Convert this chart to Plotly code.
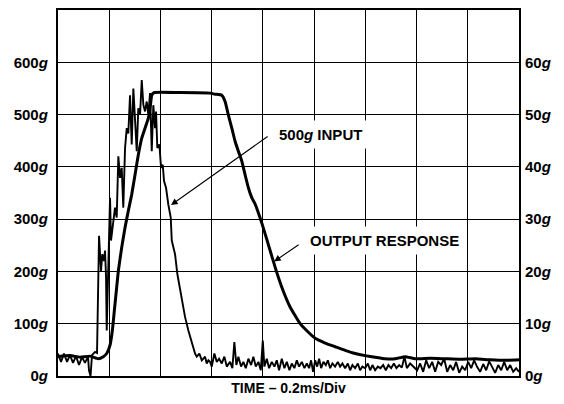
import plotly.graph_objects as go

# time in divisions (0.2 ms/div), acceleration in g
input_t = [0.000, 0.059, 0.117, 0.176, 0.234, 0.293, 0.352, 0.410, 0.469, 0.527, 0.586, 0.605, 0.635,
           0.664, 0.723, 0.762, 0.801, 0.840, 0.865, 0.898, 0.918, 0.938, 0.951, 0.982, 1.016, 1.035,
           1.080, 1.113, 1.146, 1.178, 1.211, 1.244, 1.275, 1.309, 1.342, 1.373, 1.406, 1.439, 1.471,
           1.504, 1.537, 1.568, 1.602, 1.635, 1.666, 1.699, 1.732, 1.764, 1.797, 1.830, 1.861, 1.895,
           1.914, 1.939, 1.979, 2.012, 2.045, 2.070, 2.109, 2.154, 2.201, 2.221, 2.285, 2.330, 2.383,
           2.436, 2.480, 2.545, 2.611, 2.676, 2.709, 2.760, 2.807, 2.838, 2.871, 2.904, 2.936, 2.969,
           3.002, 3.053, 3.100, 3.145, 3.197, 3.248, 3.295, 3.359, 3.404, 3.443, 3.482, 3.521, 3.574,
           3.619, 3.666, 3.717, 3.770, 3.814, 3.861, 3.912, 3.959, 3.998, 4.029, 4.076, 4.121, 4.174,
           4.225, 4.271, 4.316, 4.369, 4.420, 4.467, 4.518, 4.564, 4.615, 4.662, 4.707, 4.760, 4.811,
           4.857, 4.902, 4.941, 4.980, 5.020, 5.059, 5.098, 5.137, 5.182, 5.229, 5.268, 5.313, 5.357,
           5.410, 5.463, 5.508, 5.553, 5.605, 5.658, 5.703, 5.748, 5.801, 5.854, 5.898, 5.943, 5.996,
           6.049, 6.094, 6.139, 6.191, 6.244, 6.295, 6.348, 6.400, 6.451, 6.504, 6.557, 6.607, 6.660,
           6.713, 6.764, 6.811, 6.875, 6.939, 7.012, 7.070, 7.129, 7.188, 7.246, 7.305, 7.363, 7.422,
           7.480, 7.539, 7.598, 7.656, 7.715, 7.773, 7.832, 7.891, 7.949, 8.008, 8.066, 8.125, 8.184,
           8.242, 8.301, 8.359, 8.418, 8.477, 8.535, 8.594, 8.652, 8.711, 8.770, 8.828, 8.887, 8.945,
           9.000]
input_g = [43, 27, 43, 27, 40, 25, 38, 21, 36, 25, 37, 11, 0,
           40, 46, 44, 268, 201, 233, 220, 240, 189, 87, 220, 341, 259,
           297, 322, 303, 420, 379, 398, 322, 436, 474, 464, 537, 443, 550,
           487, 430, 512, 500, 566, 519, 506, 525, 500, 541, 430, 518, 474,
           506, 436, 443, 398, 404, 373, 360, 328, 303, 259, 233, 195, 163,
           138, 113, 87, 62, 43, 37, 43, 30, 33, 37, 24, 30, 27,
           18, 43, 27, 33, 24, 37, 18, 27, 15, 65, 21, 37, 18,
           27, 15, 33, 21, 37, 18, 27, 11, 68, 18, 33, 15, 27,
           18, 30, 11, 33, 15, 27, 11, 24, 15, 30, 18, 27, 15,
           24, 15, 30, 8, 30, 18, 33, 15, 27, 21, 30, 15, 24,
           18, 27, 18, 24, 15, 24, 11, 21, 15, 24, 11, 18, 15,
           24, 11, 21, 11, 18, 15, 21, 11, 21, 15, 24, 15, 21,
           16, 37, 15, 24, 18, 11, 24, 8, 30, 15, 27, 8, 27,
           21, 33, 8, 21, 11, 27, 6, 18, 11, 27, 15, 30, 17,
           8, 23, 11, 28, 17, 6, 21, 11, 27, 11, 21, 8, 15,
           8]

output_t = [0.000, 0.234, 0.430, 0.625, 0.787, 0.885, 0.951, 1.016, 1.061, 1.100, 1.146, 1.178,
            1.244, 1.309, 1.373, 1.439, 1.504, 1.568, 1.635, 1.699, 1.764, 1.807, 1.830, 1.875,
            2.383, 2.969, 3.066, 3.197, 3.262, 3.326, 3.393, 3.457, 3.521, 3.588, 3.652, 3.717,
            3.783, 3.848, 3.984, 4.141, 4.258, 4.395, 4.531, 4.727, 4.863, 5.020, 5.215, 5.410,
            5.605, 5.801, 5.996, 6.191, 6.387, 6.582, 6.777, 6.973, 7.266, 7.559, 7.852, 8.145,
            8.438, 8.730, 9.000]
output_g = [37, 39, 36, 38, 33, 37, 43, 59, 87, 125, 170, 201,
            246, 284, 316, 347, 385, 423, 455, 474, 493, 520, 537, 542,
            542, 541, 539, 537, 525, 499, 474, 449, 430, 411, 385, 360,
            341, 329, 291, 240, 202, 163, 132, 100, 86, 72, 63, 56,
            49, 43, 39, 36, 33, 33, 37, 33, 34, 33, 32, 33,
            31, 30, 31]

left_ticks = [0, 100, 200, 300, 400, 500, 600]
left_labels = ["0<i>g</i>", "100<i>g</i>", "200<i>g</i>", "300<i>g</i>", "400<i>g</i>", "500<i>g</i>", "600<i>g</i>"]
right_ticks = [0, 10, 20, 30, 40, 50, 60]
right_labels = ["0<i>g</i>", "10<i>g</i>", "20<i>g</i>", "30<i>g</i>", "40<i>g</i>", "50<i>g</i>", "60<i>g</i>"]

FONT = "Liberation Sans, Arial, sans-serif"

fig = go.Figure()
fig.add_trace(go.Scatter(x=input_t, y=input_g, mode="lines",
                         line=dict(color="black", width=1.9), showlegend=False, hoverinfo="skip"))
fig.add_trace(go.Scatter(x=output_t, y=output_g, mode="lines",
                         line=dict(color="black", width=3, shape="spline", smoothing=0.4),
                         showlegend=False, hoverinfo="skip"))
fig.add_trace(go.Scatter(x=[0], y=[0], yaxis="y2", mode="markers", marker=dict(opacity=0),
                         showlegend=False, hoverinfo="skip"))

# annotation texts
fig.add_annotation(x=5.117, y=462, xref="x", yref="y", text="500<i>g</i> INPUT", showarrow=False,
                   font=dict(family=FONT, size=15, color="black", weight="bold"),
                   bgcolor="white", borderpad=5)
fig.add_annotation(x=6.37, y=259, xref="x", yref="y", text="OUTPUT RESPONSE", showarrow=False,
                   font=dict(family=FONT, size=15, color="black", weight="bold"),
                   bgcolor="white", borderpad=5)
# arrows
fig.add_annotation(x=2.207, y=327, ax=4.121, ay=460, xref="x", yref="y", axref="x", ayref="y",
                   text="", showarrow=True, arrowhead=2, arrowsize=1.2, arrowwidth=1.1, arrowcolor="black")
fig.add_annotation(x=4.22, y=219, ax=4.727, ay=253, xref="x", yref="y", axref="x", ayref="y",
                   text="", showarrow=True, arrowhead=2, arrowsize=1.2, arrowwidth=1.1, arrowcolor="black")

fig.update_layout(
    width=564, height=404,
    margin=dict(l=58, r=45, t=8, b=28),
    paper_bgcolor="white", plot_bgcolor="white",
    font=dict(family=FONT, color="black"),
    xaxis=dict(range=[0, 9], dtick=1, tick0=0, showticklabels=False, ticks="",
               showgrid=True, gridcolor="black", gridwidth=1.3, zeroline=False,
               showline=True, linecolor="black", linewidth=2.2, mirror=True,
               title=dict(text="TIME – 0.2ms/Div", standoff=6,
                          font=dict(family=FONT, size=14, color="black", weight="bold"))),
    yaxis=dict(range=[0, 700], tickvals=left_ticks, ticktext=left_labels, ticks="",
               ticklabelstandoff=5,
               tickfont=dict(family=FONT, size=15, color="black", weight="bold"),
               showgrid=True, gridcolor="black", gridwidth=1.3, zeroline=False,
               showline=True, linecolor="black", linewidth=2.2, mirror=True),
    yaxis2=dict(range=[0, 70], overlaying="y", side="right", tickvals=right_ticks, ticktext=right_labels,
                ticks="", ticklabelstandoff=5,
                tickfont=dict(family=FONT, size=15, color="black", weight="bold"),
                showgrid=False, zeroline=False, showline=False),
)

fig.write_html("out.html", config={"displayModeBar": False},
               post_script="document.body.style.margin='0';document.body.style.overflow='hidden';")
